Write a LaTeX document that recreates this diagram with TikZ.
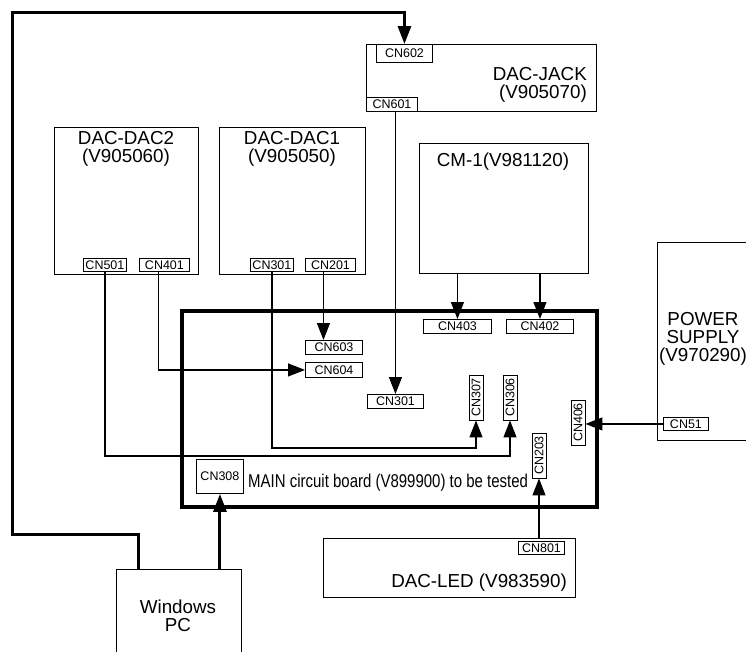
\documentclass[tikz,border=0pt]{standalone}
\usepackage{fontspec}
\setmainfont{Liberation Sans}
\newfontfamily\narrowsans[FakeStretch=0.81]{Liberation Sans}
\usetikzlibrary{arrows.meta}
\tikzset{
  board/.style={draw, rectangle, line width=0.9pt, anchor=north west, inner sep=0pt},
  cn/.style={draw, rectangle, line width=0.9pt, inner sep=0pt, font=\fontsize{12.5}{13}\selectfont, minimum height=14pt},
  title/.style={font=\fontsize{18.8}{18}\selectfont, align=center, inner sep=0pt},
  wire/.style={line width=1.2pt, -{Triangle[length=17pt,width=13pt]}},
  bus/.style={line width=3pt, -{Triangle[length=18pt,width=13pt]}},
}
\begin{document}
\begin{tikzpicture}[x=1pt, y=-1pt]
    \useasboundingbox (0,0) rectangle (746,651);

    % boards
    \node[board, minimum width=230, minimum height=67] (jack) at (366,44) {};
    \node[board, minimum width=144, minimum height=147] (dac2) at (54,127) {};
    \node[board, minimum width=146, minimum height=147] (dac1) at (219,127) {};
    \node[board, minimum width=169, minimum height=130] (cm1) at (419,143) {};
    \node[board, minimum width=110, minimum height=198] (power) at (657,242) {};
    \node[board, minimum width=252, minimum height=59] (led) at (323,538) {};
    \node[board, minimum width=125, minimum height=90] (pc) at (116,569) {};
    \node[draw, line width=4pt, anchor=north west, inner sep=0pt, minimum width=415, minimum height=196] (main) at (180,309) {};

    % board labels
    \node[title, align=right, anchor=east] (jacklbl) at (587,85) {DAC-JACK\\(V905070)};
    \node[title] (dac2lbl) at (126,149) {DAC-DAC2\\(V905060)};
    \node[title] (dac1lbl) at (292,149) {DAC-DAC1\\(V905050)};
    \node[title] (cm1lbl) at (503,162) {CM-1(V981120)};
    \node[title] (powerlbl) at (703,339) {POWER\\SUPPLY\\(V970290)};
    \node[title, anchor=east] (ledlbl) at (567,583) {DAC-LED (V983590)};
    \node[title] (pclbl) at (178,616) {Windows\\PC};
    \node[anchor=west, inner sep=0pt, font=\narrowsans\fontsize{18.5}{19}\selectfont] (mainlbl) at (248,483) {MAIN circuit board (V899900) to be tested};

    % connectors on the boards
    \node[cn, anchor=north west, minimum width=56, minimum height=18] (cn602) at (376,44) {CN602};
    \node[cn, anchor=north west, minimum width=51] (cn601) at (366,97) {CN601};
    \node[cn, anchor=north west, minimum width=43, minimum height=13] (cn501) at (83,258) {CN501};
    \node[cn, anchor=north west, minimum width=50, minimum height=13] (cn401) at (139,258) {CN401};
    \node[cn, anchor=north west, minimum width=43, minimum height=13] (cn301d) at (250,258) {CN301};
    \node[cn, anchor=north west, minimum width=50, minimum height=13] (cn201) at (305,258) {CN201};
    \node[cn, anchor=north west, minimum width=45, minimum height=13] (cn51) at (663,417) {CN51};
    \node[cn, anchor=north west, minimum width=46, minimum height=13] (cn801) at (518,541) {CN801};

    % connectors on the main board
    \node[cn, anchor=north west, minimum width=68] (cn403) at (423,319) {CN403};
    \node[cn, anchor=north west, minimum width=67] (cn402) at (506,319) {CN402};
    \node[cn, anchor=north west, minimum width=57] (cn603) at (305,340) {CN603};
    \node[cn, anchor=north west, minimum width=57, minimum height=15] (cn604) at (305,362) {CN604};
    \node[cn, anchor=north west, minimum width=56] (cn301m) at (367,394) {CN301};
    \node[cn, rotate=90, minimum width=45] (cn307) at (476,397.5) {CN307};
    \node[cn, rotate=90, minimum width=45] (cn306) at (510,397.5) {CN306};
    \node[cn, rotate=90, minimum width=45] (cn406) at (578,422.5) {CN406};
    \node[cn, rotate=90, minimum width=45] (cn203) at (539,455.5) {CN203};
    \node[cn, anchor=north west, minimum width=47, minimum height=34] (cn308) at (196,459) {CN308};

    % wiring
    \coordinate (bl) at (12,534);
    \coordinate (tl) at (12,12);
    \draw[bus] ([xshift=-40pt]pc.north) |- (bl) -- (tl) -| (cn602.north);
    \draw[bus] (pc.north -| cn308.south) -- (cn308.south);

    \draw[wire] (cn601.south -| cn301m.north) -- (cn301m.north);
    \draw[wire] ([xshift=-7pt]cn201.south) -- ([xshift=-7pt]cn201.south |- cn603.north);
    \draw[wire] ([xshift=-6pt]cn401.south) |- (cn604.west);
    \draw[wire] (cn301d.south) -- ++(0,176) -| (cn307.west);
    \draw[wire] (cn501.south) -- ++(0,184) -| (cn306.west);
    \draw[wire] (cm1.south -| cn403.north) -- (cn403.north);
    \draw[wire] (cm1.south -| cn402.north) -- (cn402.north);
    \draw[wire] (cn51.west) -- (cn51.west -| cn406.south);
    \draw[wire] (led.north -| cn203.west) -- (cn203.west);
\end{tikzpicture}
\end{document}
